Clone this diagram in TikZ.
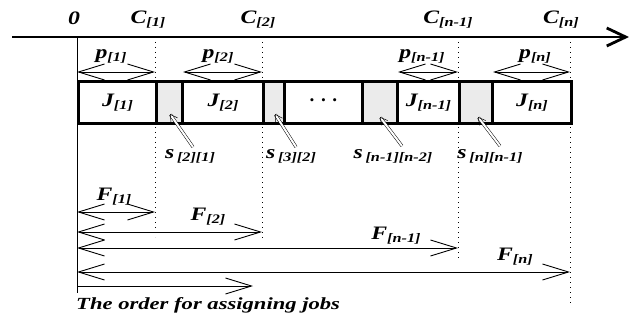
\documentclass[tikz,border=0pt]{standalone}
\usepackage{graphicx}
\usepackage{fontspec}
\setmainfont{Liberation Serif}
\usetikzlibrary{arrows.meta}
\newcommand\lb[2]{\scalebox{1.25}[1]{#1\raisebox{-0.35ex}{\fontsize{13}{14}\selectfont #2}}}
\begin{document}
\begin{tikzpicture}[x=1pt,y=-1pt,
  lab/.style={font=\bfseries\itshape\fontsize{19}{20}\selectfont, inner sep=0pt},
  axisline/.style={line width=2.8pt,-{Straight Barb[length=19pt,width=18pt,line width=2.8pt]}},
  dur/.style={line width=0.9pt,{Straight Barb[length=26pt,width=16pt,line width=0.9pt]}-{Straight Barb[length=26pt,width=16pt,line width=0.9pt]}},
  single/.style={line width=0.9pt,-{Straight Barb[length=26pt,width=16pt,line width=0.9pt]}},
  guide/.style={line width=0.9pt, dash pattern=on 1pt off 4pt},
  jobbox/.style={draw,line width=3pt,minimum height=42pt,inner sep=0pt,anchor=west,font=\bfseries\itshape\fontsize{19}{20}\selectfont},
  setupbox/.style={jobbox,fill=gray!16},
  ptr/.style={double,double distance=2pt,line width=0.5pt,-{Straight Barb[length=7pt,width=8pt,line width=0.5pt]}}
]
\useasboundingbox (0,0) rectangle (629,326);
% time axis
\coordinate (axs) at (12,37);
\coordinate (axe) at (629,37);
\draw[axisline] (axs) -- (axe);
% guide lines
\coordinate (g0t) at (77,37);  \coordinate (g0b) at (77,293);
\coordinate (g1t) at (155,37); \coordinate (g1b) at (155,237);
\coordinate (g2t) at (262,37); \coordinate (g2b) at (262,238);
\coordinate (g3t) at (458,37); \coordinate (g3b) at (458,258);
\coordinate (g4t) at (570,37); \coordinate (g4b) at (570,305);
\draw[line width=0.9pt] (g0t) -- (g0b);
\draw[guide] (g1t) -- (g1b);
\draw[guide] (g2t) -- (g2b);
\draw[guide] (g3t) -- (g3b);
\draw[guide] (g4t) -- (g4b);
% axis labels
\node[lab] (zero) at (74,18) {\scalebox{1.25}[1]{0}};
\node[lab] (C1) at (148,20) {\lb{C}{[1]}};
\node[lab] (C2) at (258,20) {\lb{C}{[2]}};
\node[lab] (Cn1) at (448,20) {\lb{C}{[n-1]}};
\node[lab] (Cn) at (561,20) {\lb{C}{[n]}};
% boxes
\node[jobbox,minimum width=78pt] (J1) at (77,103) {\lb{J}{[1]}};
\node[setupbox,minimum width=26pt] (S21) at (155,103) {};
\node[jobbox,minimum width=81pt] (J2) at (181,103) {\lb{J}{[2]}};
\node[setupbox,minimum width=21pt] (S32) at (262,103) {};
\node[jobbox,minimum width=78pt] (D) at (283,103) {{\upshape ·\hspace{5pt}·\hspace{5pt}·}};
\node[setupbox,minimum width=35pt] (SA) at (361,103) {};
\node[jobbox,minimum width=62pt] (Jn1) at (396,103) {\lb{J}{[n-1]}};
\node[setupbox,minimum width=33pt] (SB) at (458,103) {};
\node[jobbox,minimum width=79pt] (Jn) at (491,103) {\lb{J}{[n]}};
% processing times
\coordinate (p1a) at (77,72);  \coordinate (p1b) at (155,72);
\coordinate (p2a) at (183,72); \coordinate (p2b) at (262,72);
\coordinate (p3a) at (398,72); \coordinate (p3b) at (458,72);
\coordinate (p4a) at (493,72); \coordinate (p4b) at (570,72);
\draw[dur] (p1a) -- (p1b);
\draw[dur] (p2a) -- (p2b);
\draw[dur] (p3a) -- (p3b);
\draw[dur] (p4a) -- (p4b);
\node[lab] (P1) at (111,56) {\lb{p}{[1]}};
\node[lab] (P2) at (218,56) {\lb{p}{[2]}};
\node[lab] (P3) at (422,56) {\lb{p}{[n-1]}};
\node[lab] (P4) at (535,56) {\lb{p}{[n]}};
% setup labels and pointers
\node[lab] (s1) at (190,156) {\lb{s}{\,[2][1]}};
\node[lab] (s2) at (291,156) {\lb{s}{\,[3][2]}};
\node[lab] (s3) at (393,156) {\lb{s}{\,[n-1][n-2]}};
\node[lab] (s4) at (490,156) {\lb{s}{\,[n][n-1]}};
\coordinate (q1) at (193,147); \coordinate (r1) at (170,114);
\coordinate (q2) at (296,147); \coordinate (r2) at (275,114);
\coordinate (q3) at (402,146); \coordinate (r3) at (380,117);
\coordinate (q4) at (500,146); \coordinate (r4) at (478,117);
\draw[ptr] (q1) -- (r1);
\draw[ptr] (q2) -- (r2);
\draw[ptr] (q3) -- (r3);
\draw[ptr] (q4) -- (r4);
% flow times
\coordinate (f1a) at (77,212); \coordinate (f1b) at (155,212);
\coordinate (f2a) at (77,232); \coordinate (f2b) at (262,232);
\coordinate (f3a) at (77,248); \coordinate (f3b) at (458,248);
\coordinate (f4a) at (77,272); \coordinate (f4b) at (570,272);
\coordinate (f5a) at (77,286); \coordinate (f5b) at (253,286);
\draw[dur] (f1a) -- (f1b);
\draw[dur] (f2a) -- (f2b);
\draw[dur] (f3a) -- (f3b);
\draw[dur] (f4a) -- (f4b);
\draw[single] (f5a) -- (f5b);
\node[lab] (F1) at (114,197) {\lb{F}{[1]}};
\node[lab] (F2) at (208,217) {\lb{F}{[2]}};
\node[lab] (F3) at (396,236) {\lb{F}{[n-1]}};
\node[lab] (F4) at (515,257) {\lb{F}{[n]}};
\node[lab,anchor=west,font=\bfseries\itshape\fontsize{17}{18}\selectfont] (cap) at (76,305) {\scalebox{1.33}[1]{The order for assigning jobs}};
\end{tikzpicture}
\end{document}
